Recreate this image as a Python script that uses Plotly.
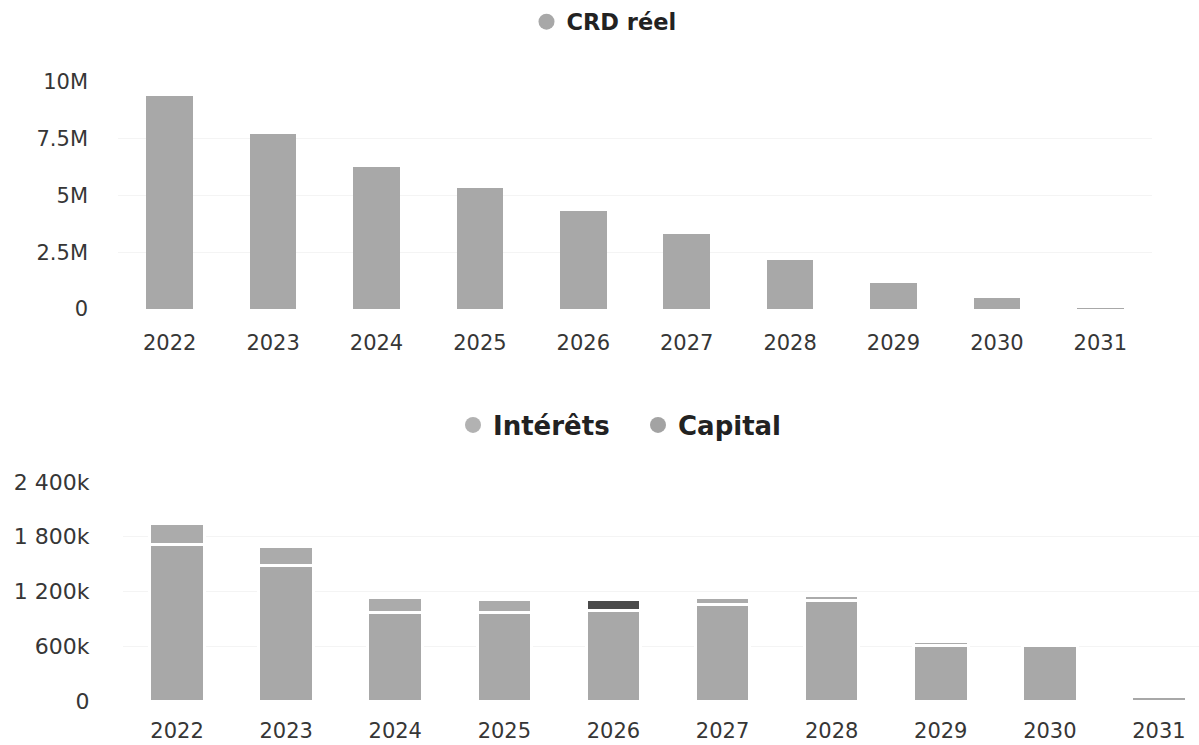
import plotly.graph_objects as go

# Données
years = ["2022", "2023", "2024", "2025", "2026", "2027", "2028", "2029", "2030", "2031"]
crd_reel = [9.38e6, 7.69e6, 6.26e6, 5.31e6, 4.30e6, 3.30e6, 2.18e6, 1.15e6, 0.48e6, 0.02e6]
capital = [1718e3, 1481e3, 968e3, 972e3, 987e3, 1060e3, 1100e3, 605e3, 612e3, 50e3]
interets = [231e3, 209e3, 165e3, 143e3, 129e3, 74e3, 52e3, 42e3, 3e3, 2e3]

crd_ticks = [0, 2.5e6, 5e6, 7.5e6, 10e6]
crd_ticktext = ["0", "2.5M", "5M", "7.5M", "10M"]
flux_ticks = [0, 600e3, 1200e3, 1800e3, 2400e3]
flux_ticktext = ["0", "600k", "1 200k", "1 800k", "2 400k"]

# Style
W, H = 1199, 745
BAR = "#a8a8a8"
BAR_INT = "#ababab"
BAR_INT_ACTIVE = "#4a4a4a"
LEG_INT = "#b2b2b2"
LEG_CAP = "#a3a3a3"
TXT = "#363636"
FONT = "DejaVu Sans"

int_colors = [BAR_INT_ACTIVE if y == "2026" else BAR_INT for y in years]

fig = go.Figure()

# Graphique du haut : capital restant dû
fig.add_trace(go.Bar(
    x=years, y=crd_reel, xaxis="x", yaxis="y",
    marker=dict(color=BAR, line=dict(width=0)),
    width=0.45, showlegend=False, name="CRD réel",
))
fig.add_trace(go.Scatter(
    x=[None], y=[None], xaxis="x", yaxis="y", mode="markers",
    marker=dict(color=BAR, size=18, symbol="circle"),
    name="CRD réel", legend="legend",
))

# Graphique du bas : capital + intérêts empilés
fig.add_trace(go.Bar(
    x=years, y=capital, xaxis="x2", yaxis="y2",
    marker=dict(color=BAR, line=dict(color="white", width=3)),
    width=0.5, showlegend=False, name="Capital",
))
fig.add_trace(go.Bar(
    x=years, y=interets, xaxis="x2", yaxis="y2",
    marker=dict(color=int_colors, line=dict(color="white", width=3)),
    width=0.5, showlegend=False, name="Intérêts",
))
fig.add_trace(go.Scatter(
    x=[None], y=[None], xaxis="x2", yaxis="y2", mode="markers",
    marker=dict(color=LEG_INT, size=18, symbol="circle"),
    name="Intérêts", legend="legend2",
))
fig.add_trace(go.Scatter(
    x=[None], y=[None], xaxis="x2", yaxis="y2", mode="markers",
    marker=dict(color=LEG_CAP, size=18, symbol="circle"),
    name="Capital", legend="legend2",
))

axis_common = dict(showline=False, ticks="", zeroline=False, automargin=False)

fig.update_layout(
    width=W, height=H,
    margin=dict(l=0, r=0, t=0, b=0, autoexpand=False),
    paper_bgcolor="white", plot_bgcolor="white",
    barmode="stack",
    font=dict(family=FONT, color=TXT),
    xaxis=dict(
        domain=[118 / W, 1152 / W], anchor="y", type="category",
        range=[-0.5, 9.5], showgrid=False, ticklabelstandoff=19,
        tickfont=dict(family=FONT, size=21, color=TXT), **axis_common,
    ),
    yaxis=dict(
        domain=[1 - 309 / H, 1 - 82 / H], anchor="x",
        range=[0, 10e6], tickvals=crd_ticks, ticktext=crd_ticktext,
        showgrid=True, gridcolor="#f4f4f4", ticklabelstandoff=29,
        tickfont=dict(family=FONT, size=21, color=TXT), **axis_common,
    ),
    xaxis2=dict(
        domain=[122.5 / W, 1], anchor="y2", type="category",
        range=[-0.5, 9.367], showgrid=False, ticklabelstandoff=15,
        tickfont=dict(family=FONT, size=21, color=TXT), **axis_common,
    ),
    yaxis2=dict(
        domain=[1 - 701 / H, 1 - 482 / H], anchor="x2",
        range=[0, 2400e3], tickvals=flux_ticks, ticktext=flux_ticktext,
        showgrid=True, gridcolor="#f4f4f4", ticklabelstandoff=32,
        tickfont=dict(family=FONT, size=22, color=TXT), **axis_common,
    ),
    legend=dict(
        orientation="h", x=604 / W, xanchor="center", y=1 - 22 / H, yanchor="middle",
        font=dict(family=FONT, size=22.5, color="#222222", weight="bold"),
        bgcolor="rgba(0,0,0,0)",
    ),
    legend2=dict(
        orientation="h", x=638 / W, xanchor="center", y=1 - 425 / H, yanchor="middle",
        font=dict(family=FONT, size=26, color="#222222", weight="bold"),
        bgcolor="rgba(0,0,0,0)", traceorder="normal", entrywidth=140,
    ),
    hovermode=False,
)

fig.write_html("out.html")
